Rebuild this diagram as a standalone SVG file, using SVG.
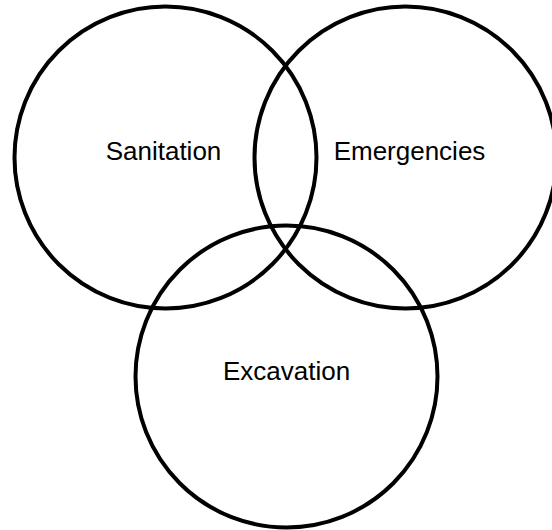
<svg xmlns="http://www.w3.org/2000/svg" width="552" height="530" viewBox="0 0 552 530">
<style>
.c{fill:none;stroke:#000;stroke-width:4}
.t{font-family:"Liberation Sans",Arial,sans-serif;font-size:26px;fill:#000;text-anchor:middle}
</style>
<rect width="552" height="530" fill="#fff"/>
<g id="sanitation"><circle class="c" cx="165.5" cy="157.5" r="151"/><text class="t" x="163.5" y="160">Sanitation</text></g>
<g id="emergencies"><circle class="c" cx="405.5" cy="157.5" r="151"/><text class="t" x="409.5" y="160">Emergencies</text></g>
<g id="excavation"><circle class="c" cx="286.5" cy="376.5" r="151"/><text class="t" x="286.5" y="380">Excavation</text></g>
<g id="connectors"/>
</svg>
